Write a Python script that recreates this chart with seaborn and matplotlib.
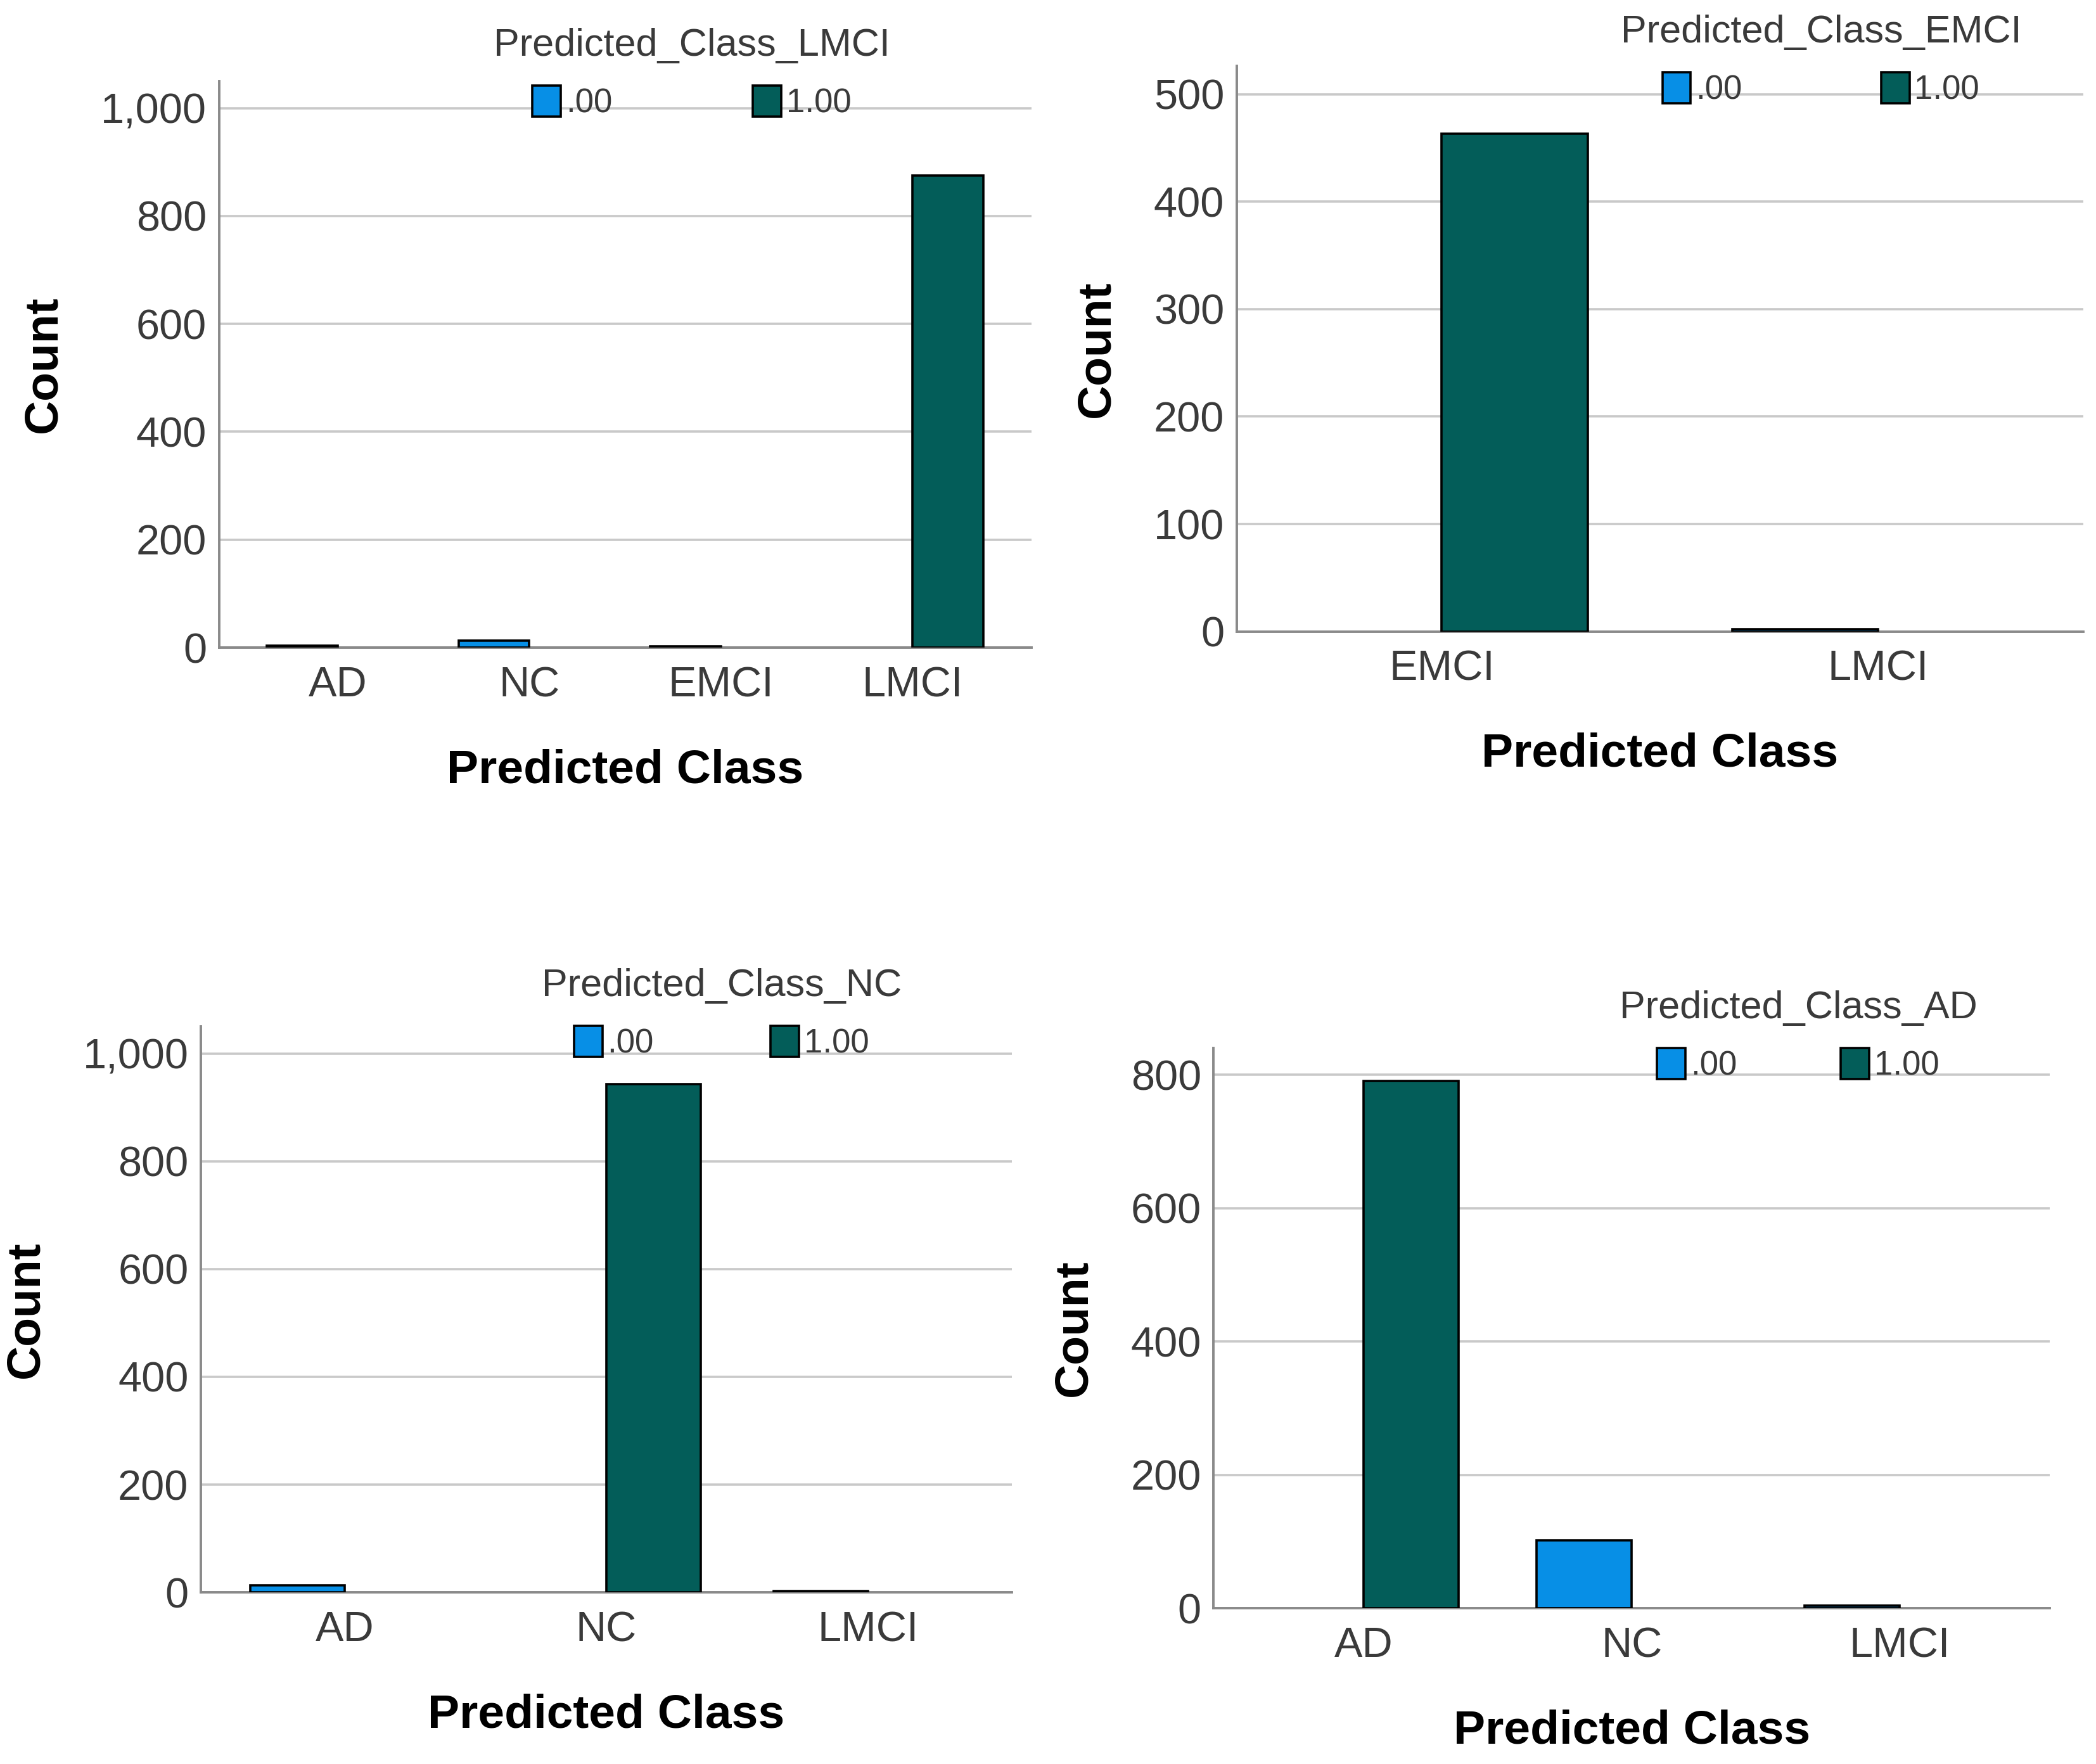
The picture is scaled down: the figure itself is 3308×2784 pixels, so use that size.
import pandas as pd
import matplotlib
matplotlib.use('Agg')
import matplotlib.pyplot as plt
import seaborn as sns
from matplotlib.patches import Patch
from matplotlib.ticker import FuncFormatter, MultipleLocator

# --- values ---
hue_levels = ['.00', '1.00']

lmci_classes = ['AD', 'NC', 'EMCI', 'LMCI']
lmci_zero = [4, 13, 2, 0]
lmci_one = [0, 0, 0, 875]

emci_classes = ['EMCI', 'LMCI']
emci_zero = [0, 2]
emci_one = [463, 0]

nc_classes = ['AD', 'NC', 'LMCI']
nc_zero = [13, 0, 3]
nc_one = [0, 943, 0]

ad_classes = ['AD', 'NC', 'LMCI']
ad_zero = [0, 102, 4]
ad_one = [791, 0, 0]

BLUE = '#078FE6'
TEAL = '#035D59'
GRID = '#c9c9c9'
SPINE = '#8a8a8a'
TXT = '#3a3a3a'

sns.set_theme(style='white')
plt.rcParams['font.family'] = ['Liberation Sans', 'DejaVu Sans']


def long_frame(classes, zero, one):
    rows = []
    for c, z, o in zip(classes, zero, one):
        if z > 0:
            rows.append({'Predicted Class': c, 'grp': '.00', 'Count': z})
        if o > 0:
            rows.append({'Predicted Class': c, 'grp': '1.00', 'Count': o})
    return pd.DataFrame(rows)


def draw_panel(fig, rect, classes, zero, one, title, ymax, ystep, width, xpad,
               leg_anchor, colspace):
    ax = fig.add_axes(rect)
    df = long_frame(classes, zero, one)
    sns.barplot(data=df, x='Predicted Class', y='Count', hue='grp',
                order=classes, hue_order=hue_levels,
                palette=[BLUE, TEAL], saturation=1, width=width, dodge=True,
                edgecolor='black', linewidth=1.3, legend=False, ax=ax,
                zorder=3)
    ax.set_xlim(-xpad, len(classes) - 1 + xpad)
    ax.set_ylim(0, ymax)
    ax.yaxis.set_major_locator(MultipleLocator(ystep))
    ax.yaxis.set_major_formatter(FuncFormatter(lambda v, p: f'{v:,.0f}'))
    ax.grid(axis='y', color=GRID, linewidth=1.3, zorder=0)
    ax.set_axisbelow(True)
    for s in ['top', 'right']:
        ax.spines[s].set_visible(False)
    for s in ['left', 'bottom']:
        ax.spines[s].set_color(SPINE)
        ax.spines[s].set_linewidth(1.4)
    ax.tick_params(axis='both', length=0, labelsize=24, colors=TXT)
    ax.tick_params(axis='x', pad=10.5)
    ax.tick_params(axis='y', pad=7)
    ax.set_xlabel('Predicted Class', fontsize=27, fontweight='bold',
                  color='black', labelpad=24.5)
    ax.set_ylabel('Count', fontsize=27, fontweight='bold', color='black',
                  labelpad=20)

    handles = [Patch(facecolor=BLUE, edgecolor='black', linewidth=1.3),
               Patch(facecolor=TEAL, edgecolor='black', linewidth=1.3)]
    leg = ax.legend(handles, hue_levels, title=title, ncol=2, frameon=False,
                    loc='center', bbox_to_anchor=leg_anchor,
                    fontsize=19, title_fontsize=22,
                    handlelength=0.85, handleheight=1.05, handletextpad=0.15,
                    columnspacing=colspace, borderpad=0, labelspacing=0.65)
    for t in leg.get_texts():
        t.set_color(TXT)
    leg.get_title().set_color(TXT)
    return ax


fig = plt.figure(figsize=(16.54, 13.92), dpi=200)

draw_panel(fig, [0.1045, 0.6329, 0.3875, 0.3211], lmci_classes, lmci_zero,
           lmci_one, 'Predicted_Class_LMCI', 1050, 200, 0.74, 0.62,
           (0.582, 1.013), 4.2)
draw_panel(fig, [0.590, 0.642, 0.404, 0.3205], emci_classes, emci_zero,
           emci_one, 'Predicted_Class_EMCI', 526, 100, 0.67, 0.47,
           (0.690, 1.010), 4.15)
draw_panel(fig, [0.0958, 0.0973, 0.387, 0.3208], nc_classes, nc_zero,
           nc_one, 'Predicted_Class_NC', 1050, 200, 0.72, 0.55,
           (0.642, 1.022), 3.5)
draw_panel(fig, [0.579, 0.0883, 0.399, 0.3176], ad_classes, ad_zero,
           ad_one, 'Predicted_Class_AD', 840, 200, 0.71, 0.56,
           (0.699, 1.021), 3.1)

fig.savefig('out.png', dpi=200, facecolor='white')
